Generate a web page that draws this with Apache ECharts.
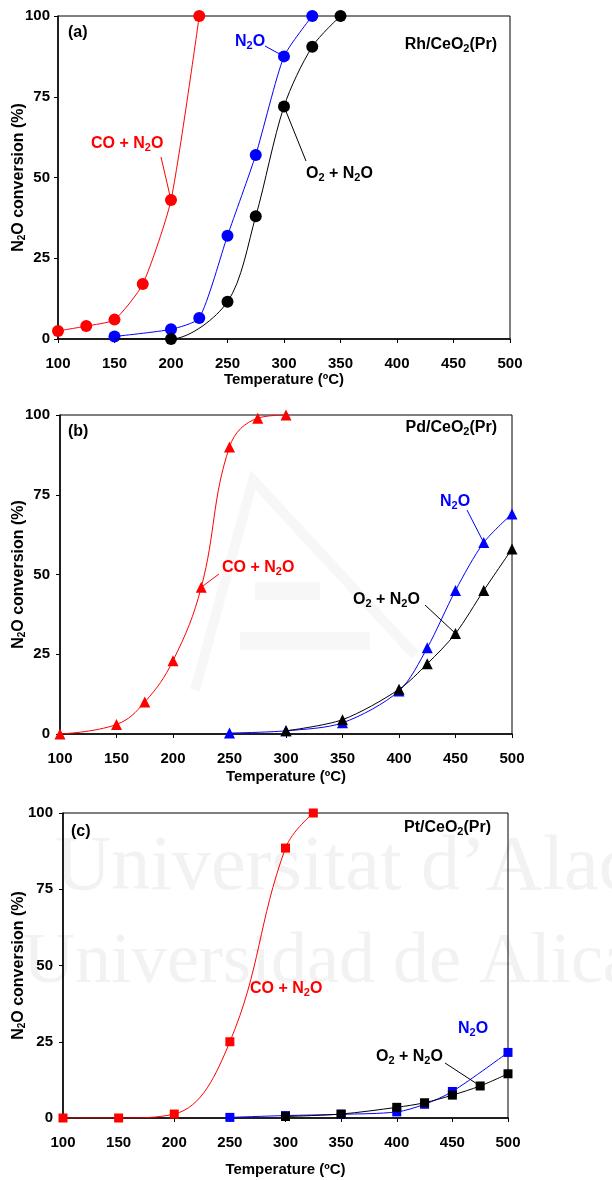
<!DOCTYPE html>
<html>
<head>
<meta charset="utf-8">
<script src="https://cdn.jsdelivr.net/npm/echarts@6/dist/echarts.min.js"></script>
<style>
  html, body { margin: 0; padding: 0; background: #fff; }
  #chart { width: 612px; height: 1180px; }
</style>
</head>
<body>
<div id="chart"></div>
<script>
// ---- data ----
// (a) Rh/CeO2(Pr), circles
var tempA_CO  = [100, 125, 150, 175, 200, 225];
var convA_CO  = [2.5, 4, 6, 17, 43, 100];
var tempA_N2O = [150, 200, 225, 250, 275, 300, 325];
var convA_N2O = [0.8, 3, 6.5, 32, 57, 87.5, 100];
var tempA_O2  = [150, 200, 250, 275, 300, 325, 350];
var convA_O2  = [0, 0, 11.5, 38, 72, 90.5, 100];

// (b) Pd/CeO2(Pr), triangles
var tempB_CO  = [100, 150, 175, 200, 225, 250, 275, 300];
var convB_CO  = [0, 3, 10, 23, 46, 90, 99, 100];
var tempB_N2O = [250, 300, 350, 400, 425, 450, 475, 500];
var convB_N2O = [0.3, 1, 3.5, 13.5, 27, 45, 60, 69];
var tempB_O2  = [300, 350, 400, 425, 450, 475, 500];
var convB_O2  = [1, 4.5, 14, 22, 31.5, 45, 58];

// (c) Pt/CeO2(Pr), squares
var tempC_CO  = [100, 150, 200, 250, 300, 325];
var convC_CO  = [0, 0, 1.3, 25, 88.5, 100];
var tempC_N2O = [250, 300, 350, 400, 425, 450, 500];
var convC_N2O = [0.2, 0.8, 1.2, 2, 4.5, 8.7, 21.5];
var tempC_O2  = [300, 350, 400, 425, 450, 475, 500];
var convC_O2  = [0.5, 1.3, 3.5, 5, 7.5, 10.5, 14.5];

var xTicks = [100, 150, 200, 250, 300, 350, 400, 450, 500];
var yTicks = [0, 25, 50, 75, 100];

var RED = '#ff0000', BLUE = '#0000ff', BLACK = '#000000';
var FONT = "'Liberation Sans', Arial, sans-serif";

function pairs(xs, ys) {
  return xs.map(function (x, i) { return [x, ys[i]]; });
}

var rich = {
  s: { fontSize: 11, fontWeight: 'bold', fontFamily: FONT, padding: [8, 0, 0, 0] }
};
var richName = {
  s: { fontSize: 10, fontWeight: 'bold', fontFamily: FONT, padding: [7, 0, 0, 0] }
};

var grids = [
  { left: 58, top: 16, width: 452, height: 323 },
  { left: 60, top: 415, width: 452, height: 319 },
  { left: 63, top: 813, width: 445, height: 305 }
];
var xNameGaps = [32, 35, 44];
var yNameGaps = [31, 33, 36];

var chart = echarts.init(document.getElementById('chart'));

var xAxes = grids.map(function (g, i) {
  return {
    type: 'value', gridIndex: i, min: xTicks[0], max: xTicks[xTicks.length - 1], interval: 50,
    name: 'Temperature (ºC)', nameLocation: 'middle', nameGap: xNameGaps[i],
    nameTextStyle: { fontFamily: FONT, fontWeight: 'bold', fontSize: 15, color: '#000' },
    axisLine: { onZero: false, lineStyle: { color: '#000', width: 1.5 } },
    axisTick: { show: true, length: 4, lineStyle: { color: '#000' } },
    axisLabel: { margin: 17, fontFamily: FONT, fontWeight: 'bold', fontSize: 15, color: '#000' },
    splitLine: { show: false }
  };
});
var yAxes = grids.map(function (g, i) {
  return {
    type: 'value', gridIndex: i, min: yTicks[0], max: yTicks[yTicks.length - 1], interval: 25,
    name: 'N{s|2}O conversion (%)', nameLocation: 'middle', nameGap: yNameGaps[i],
    nameMoveOverlap: false,
    nameTextStyle: { fontFamily: FONT, fontWeight: 'bold', fontSize: 16, color: '#000', rich: richName },
    axisLine: { lineStyle: { color: '#000', width: 1.5 } },
    axisTick: { show: true, length: 4, lineStyle: { color: '#000' } },
    axisLabel: { margin: i === 0 ? 8 : 10, fontFamily: FONT, fontWeight: 'bold', fontSize: 15, color: '#000' },
    splitLine: { show: false }
  };
});

function line(name, idx, data, color, symbol, size, smooth) {
  return {
    name: name, type: 'line', xAxisIndex: idx, yAxisIndex: idx,
    data: data, smooth: smooth, symbol: symbol, symbolSize: size,
    showSymbol: true, z: color === BLACK ? 3 : 2,
    lineStyle: { color: color, width: 1 },
    itemStyle: { color: color },
    animation: false
  };
}

// first black point in (a) is only where the trace starts, no marker
var dataA_O2 = pairs(tempA_O2, convA_O2);
dataA_O2[0] = { value: dataA_O2[0], symbol: 'none' };

var series = [
  line('CO + N2O', 0, pairs(tempA_CO, convA_CO), RED, 'circle', 12, 0.2),
  line('N2O', 0, pairs(tempA_N2O, convA_N2O), BLUE, 'circle', 12, 0.2),
  line('O2 + N2O', 0, dataA_O2, BLACK, 'circle', 12, 0.3),
  line('CO + N2O', 1, pairs(tempB_CO, convB_CO), RED, 'triangle', 11, 0.4),
  line('N2O', 1, pairs(tempB_N2O, convB_N2O), BLUE, 'triangle', 11, 0.3),
  line('O2 + N2O', 1, pairs(tempB_O2, convB_O2), BLACK, 'triangle', 11, 0.3),
  line('CO + N2O', 2, pairs(tempC_CO, convC_CO), RED, 'rect', 9, 0.4),
  line('N2O', 2, pairs(tempC_N2O, convC_N2O), BLUE, 'rect', 9, 0.3),
  line('O2 + N2O', 2, pairs(tempC_O2, convC_O2), BLACK, 'rect', 9, 0.3)
];

chart.setOption({
  backgroundColor: '#fff',
  animation: false,
  grid: grids.map(function (g) {
    return Object.assign({
      show: true, borderColor: '#000', borderWidth: 1, backgroundColor: 'transparent',
      containLabel: false, outerBoundsMode: 'none'
    }, g);
  }),
  xAxis: xAxes,
  yAxis: yAxes,
  series: series
});

// ---- annotations ----
function txt(x, y, text, color, align, size) {
  return {
    type: 'text', x: x, y: y, z: 10, silent: true,
    style: {
      text: text, fill: color, fontFamily: FONT, fontWeight: 'bold', fontSize: size || 16,
      align: align || 'left', verticalAlign: 'middle', rich: rich
    }
  };
}
function leader(x1, y1, grid, pt, color) {
  var p = chart.convertToPixel({ gridIndex: grid }, pt);
  return {
    type: 'line', z: 9, silent: true,
    shape: { x1: x1, y1: y1, x2: p[0], y2: p[1] },
    style: { stroke: color, lineWidth: 1 }
  };
}

var wm = '#f2f2f2';
var wm2 = '#f7f7f7';
var SERIF = "'Liberation Serif', 'DejaVu Serif', serif";
var graphics = [
  // faint scan watermark
  { type: 'text', x: 55, y: 830, z: -1, silent: true,
    style: { text: 'Universitat d\u2019Alacant', fill: wm, fontFamily: SERIF, fontSize: 78, verticalAlign: 'alphabetic' } },
  { type: 'text', x: 23, y: 927, z: -1, silent: true,
    style: { text: 'Universidad de Alicante', fill: wm, fontFamily: SERIF, fontSize: 72, verticalAlign: 'alphabetic' } },
  { type: 'polyline', z: -1, silent: true,
    shape: { points: [[195, 690], [253, 480], [415, 655]] },
    style: { stroke: wm2, lineWidth: 10, fill: null } },
  { type: 'rect', z: -1, silent: true, shape: { x: 255, y: 582, width: 65, height: 18 }, style: { fill: wm2 } },
  { type: 'rect', z: -1, silent: true, shape: { x: 240, y: 632, width: 130, height: 18 }, style: { fill: wm2 } },

  // (a)
  txt(68, 33, '(a)', BLACK),
  txt(497, 45, 'Rh/CeO{s|2}(Pr)', BLACK, 'right'),
  txt(91, 144, 'CO + N{s|2}O', RED),
  leader(161, 157, 0, [tempA_CO[4], convA_CO[4]], RED),
  txt(235, 42, 'N{s|2}O', BLUE),
  leader(265, 46, 0, [tempA_N2O[5], convA_N2O[5]], BLUE),
  txt(306, 174, 'O{s|2} + N{s|2}O', BLACK),
  leader(306, 161, 0, [tempA_O2[4], convA_O2[4]], BLACK),

  // (b)
  txt(68, 432, '(b)', BLACK),
  txt(497, 428, 'Pd/CeO{s|2}(Pr)', BLACK, 'right'),
  txt(222, 568, 'CO + N{s|2}O', RED),
  leader(219, 574, 1, [tempB_CO[4], convB_CO[4]], RED),
  txt(440, 502, 'N{s|2}O', BLUE),
  leader(467, 510, 1, [tempB_N2O[6], convB_N2O[6]], BLUE),
  txt(353, 600, 'O{s|2} + N{s|2}O', BLACK),
  leader(425, 605, 1, [tempB_O2[4], convB_O2[4]], BLACK),

  // (c)
  txt(71, 832, '(c)', BLACK),
  txt(491, 828, 'Pt/CeO{s|2}(Pr)', BLACK, 'right'),
  txt(250, 989, 'CO + N{s|2}O', RED),
  txt(458, 1029, 'N{s|2}O', BLUE),
  txt(376, 1057, 'O{s|2} + N{s|2}O', BLACK),
  leader(445, 1063, 2, [tempC_O2[5], convC_O2[5]], BLACK)
];

chart.setOption({ graphic: graphics });
</script>
</body>
</html>
